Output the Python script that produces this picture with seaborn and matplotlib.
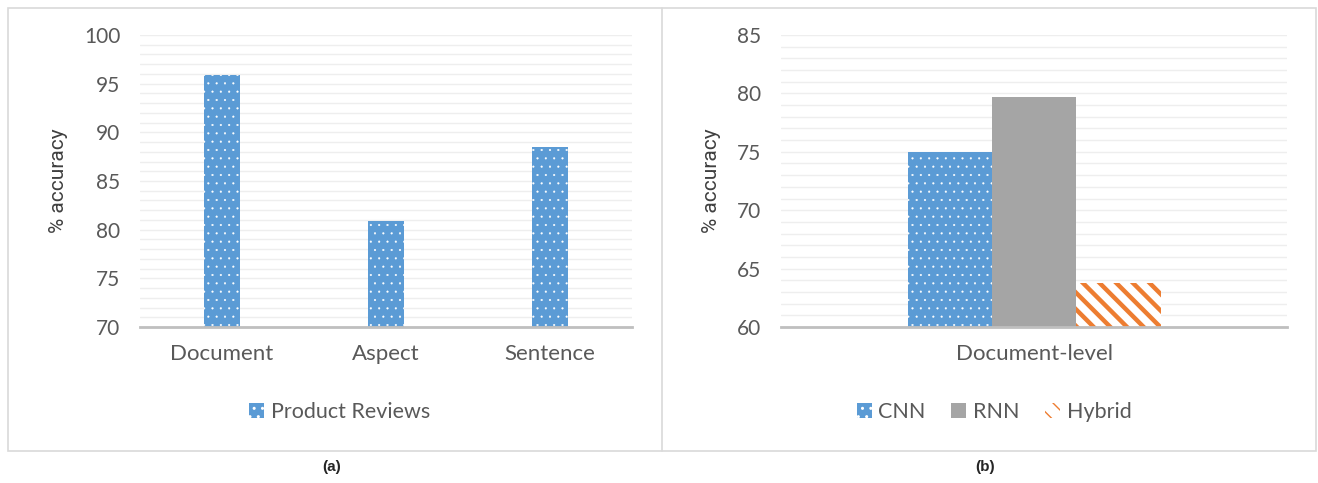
import matplotlib
matplotlib.use("Agg")
import matplotlib.pyplot as plt
import seaborn as sns
import pandas as pd
from matplotlib.patches import Rectangle
from matplotlib.lines import Line2D

# ---------------------------
# Data
# ---------------------------
levels = ["Document", "Aspect", "Sentence"]
review_acc = [95.9, 80.9, 88.5]
series_a = "Product Reviews"

models = ["CNN", "RNN", "Hybrid"]
model_acc = [75.0, 79.7, 63.8]
group_b = "Document-level"

BLUE = "#5B9BD5"
GREY = "#A5A5A5"
ORANGE = "#ED7D31"
TEXT = "#595959"

sns.set_style("white")
plt.rcParams["font.family"] = ["Lato", "DejaVu Sans"]


def hatch_lw(p, lw):
    if hasattr(p, "set_hatch_linewidth"):
        p.set_hatch_linewidth(lw)
    else:
        p._hatch_linewidth = lw


def dotted(p):
    p.set_hatch("..")
    p.set_edgecolor("white")
    p.set_linewidth(0)
    hatch_lw(p, 0.3)


def style_axis(ax, lo, hi):
    ax.set_ylim(lo, hi)
    ax.set_yticks(range(lo, hi + 1, 5))
    ax.set_yticks(range(lo, hi + 1), minor=True)
    ax.grid(True, axis="y", which="both", color="#EEEEEE", linewidth=1)
    ax.set_axisbelow(True)
    for s in ["top", "right", "left"]:
        ax.spines[s].set_visible(False)
    ax.spines["bottom"].set_color("#BFBFBF")
    ax.spines["bottom"].set_linewidth(2)
    ax.tick_params(axis="both", which="both", length=0, labelcolor=TEXT)
    ax.tick_params(axis="y", labelsize=15, pad=14)
    ax.tick_params(axis="x", labelsize=16, pad=12)
    ax.set_xlabel("")
    ax.set_ylabel("% accuracy", fontsize=15, color="#404040", labelpad=12,
                  family="Roboto")


fig = plt.figure(figsize=(13.18, 4.83), dpi=100)
W, H = 1318, 483

# ---------------------------
# (a) product reviews
# ---------------------------
ax1 = fig.add_axes([140 / W, 1 - 327 / H, 492 / W, 292 / H])
df_a = pd.DataFrame({"level": levels, "acc": review_acc, "series": series_a})
sns.barplot(data=df_a, x="level", y="acc", hue="series", palette=[BLUE],
            saturation=1, width=0.22, ax=ax1, legend=False)
for p in ax1.patches:
    dotted(p)
style_axis(ax1, 70, 100)
ax1.set_xlim(-0.5, 2.5)
ax1.legend(ax1.containers, [series_a], loc="center", bbox_to_anchor=(0.406, -0.29),
           frameon=False, fontsize=15.5, labelcolor=TEXT, handlelength=0.7,
           handleheight=0.7, handletextpad=0.3)

# ---------------------------
# (b) models on document level
# ---------------------------
ax2 = fig.add_axes([781 / W, 1 - 327 / H, 506 / W, 292 / H])
df_b = pd.DataFrame({"group": group_b, "model": models, "acc": model_acc})
sns.barplot(data=df_b, x="group", y="acc", hue="model", hue_order=models,
            palette=[BLUE, GREY, ORANGE], saturation=1, width=0.5, ax=ax2,
            legend=False)
for cont, name in zip(ax2.containers, models):
    for p in cont:
        p.set_linewidth(0)
        if name == "CNN":
            dotted(p)
        elif name == "Hybrid":
            p.set_facecolor("white")
            p.set_edgecolor(ORANGE)
            p.set_hatch("\\\\")
            hatch_lw(p, 3.2)
style_axis(ax2, 60, 85)
ax2.set_xlim(-0.5, 0.5)
ax2.legend(ax2.containers, models, loc="center", bbox_to_anchor=(0.421, -0.29),
           ncol=3, frameon=False, fontsize=15.5, labelcolor=TEXT, handlelength=0.7,
           handleheight=0.7, handletextpad=0.3, columnspacing=1.2)

# ---------------------------
# frame and captions
# ---------------------------
fig.patches.append(Rectangle((8 / W, 1 - 451 / H), 1308 / W, 443 / H,
                             transform=fig.transFigure, fill=False,
                             edgecolor="#D9D9D9", linewidth=1.2))
fig.lines.append(Line2D([662 / W, 662 / W], [1 - 451 / H, 1 - 8 / H],
                        transform=fig.transFigure, color="#D9D9D9", linewidth=1.2))
fig.text(332 / W, 1 - 467 / H, "(a)", ha="center", va="center", fontsize=11,
         fontweight="bold", family="Liberation Sans")
fig.text(985 / W, 1 - 467 / H, "(b)", ha="center", va="center", fontsize=11,
         fontweight="bold", family="Liberation Sans")

fig.savefig("out.png", dpi=100)
